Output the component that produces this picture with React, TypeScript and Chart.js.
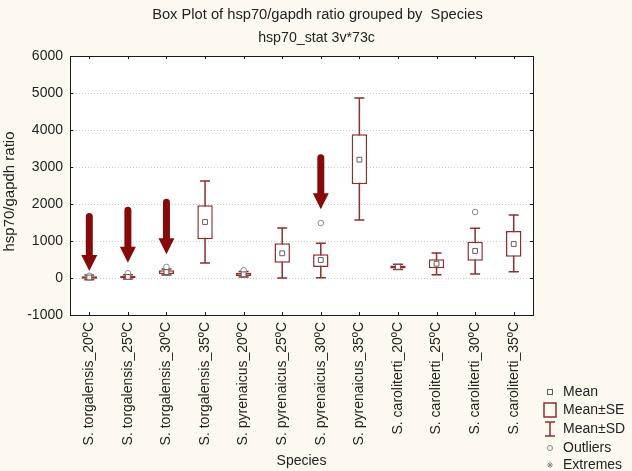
import { useEffect, useRef } from 'react';
import { Chart, registerables } from 'chart.js';

Chart.register(...registerables);

// Groups (species × temperature)
const categories = [
  'S. torgalensis_20ºC',
  'S. torgalensis_25ºC',
  'S. torgalensis_30ºC',
  'S. torgalensis_35ºC',
  'S. pyrenaicus_20ºC',
  'S. pyrenaicus_25ºC',
  'S. pyrenaicus_30ºC',
  'S. pyrenaicus_35ºC',
  'S. caroliterti_20ºC',
  'S. caroliterti_25ºC',
  'S. caroliterti_30ºC',
  'S. caroliterti_35ºC',
];

// hsp70/gapdh ratio summaries per group
const means = [15, 30, 160, 1513, 100, 667, 486, 3198, 300, 387, 730, 919];
const seLow = [-20, 0, 110, 1046, 55, 414, 297, 2532, 260, 261, 468, 577];
const seHigh = [50, 60, 210, 1965, 145, 937, 640, 3883, 340, 505, 982, 1270];
const sdLow = [-50, -30, 80, 405, 25, 0, 9, 1568, 230, 90, 108, 171];
const sdHigh = [80, 90, 240, 2622, 175, 1351, 937, 4865, 370, 676, 1342, 1703];

// Outlying observations
const outlierGroups = [0, 1, 2, 4, 6, 10];
const outlierValues = [60, 130, 300, 210, 1486, 1784];

// Highlight arrows (group, tail value, tip value)
const arrowGroups = [0, 1, 2, 6];
const arrowTails = [1757, 1927, 2143, 3342];
const arrowTips = [190, 414, 640, 1856];

// Value axis
const yMin = -1000;
const yMax = 6000;
const yStep = 1000;

const chartTitle = 'Box Plot of hsp70/gapdh ratio grouped by  Species';
const chartSubtitle = 'hsp70_stat 3v*73c';
const xTitle = 'Species';
const yTitle = 'hsp70/gapdh ratio';
const legendLabels = ['Mean', 'Mean±SE', 'Mean±SD', 'Outliers', 'Extremes'];

const FONT = '"Liberation Sans", Arial, sans-serif';
const TEXT = '#222222';
const BOX = '#8c2f2f';
const ARROW = '#860a0a';
const MARK = '#6e5a5a';
const PAGE = '#fcfaf0';

const boxPlotPlugin = {
  id: 'boxPlotExtras',
  beforeDraw(chart: any) {
    const { ctx, chartArea: a, width, height } = chart;
    ctx.save();
    ctx.fillStyle = PAGE;
    ctx.fillRect(0, 0, width, height);
    ctx.fillStyle = '#ffffff';
    ctx.fillRect(a.left, a.top, a.right - a.left, a.bottom - a.top);
    ctx.restore();
  },
  beforeDatasetsDraw(chart: any) {
    const { ctx, chartArea: a, scales } = chart;
    const x = scales.x;
    const y = scales.y;
    ctx.save();
    // dotted horizontal grid
    ctx.strokeStyle = '#c8c8c8';
    ctx.lineWidth = 1;
    ctx.setLineDash([1, 2]);
    for (let v = yMin + yStep; v < yMax; v += yStep) {
      const py = Math.round(y.getPixelForValue(v)) + 0.5;
      ctx.beginPath();
      ctx.moveTo(a.left, py);
      ctx.lineTo(a.right, py);
      ctx.stroke();
    }
    ctx.setLineDash([]);
    // whiskers (mean ± SD)
    ctx.strokeStyle = BOX;
    ctx.lineWidth = 1.5;
    const cap = 5;
    categories.forEach((_, i) => {
      const px = x.getPixelForValue(i);
      const lo = y.getPixelForValue(sdLow[i]);
      const hi = y.getPixelForValue(sdHigh[i]);
      ctx.beginPath();
      ctx.moveTo(px, lo);
      ctx.lineTo(px, hi);
      ctx.moveTo(px - cap, lo);
      ctx.lineTo(px + cap, lo);
      ctx.moveTo(px - cap, hi);
      ctx.lineTo(px + cap, hi);
      ctx.stroke();
    });
    ctx.restore();
  },
  afterDatasetsDraw(chart: any) {
    const { ctx, chartArea: a, scales } = chart;
    const x = scales.x;
    const y = scales.y;
    ctx.save();
    // frame
    ctx.strokeStyle = '#1a1a1a';
    ctx.lineWidth = 1;
    ctx.strokeRect(Math.round(a.left) + 0.5, Math.round(a.top) + 0.5,
      Math.round(a.right - a.left), Math.round(a.bottom - a.top));
    // inner ticks
    ctx.beginPath();
    for (let v = yMin; v <= yMax; v += yStep) {
      const py = Math.round(y.getPixelForValue(v)) + 0.5;
      ctx.moveTo(a.left, py);
      ctx.lineTo(a.left + 3, py);
      ctx.moveTo(a.right, py);
      ctx.lineTo(a.right - 3, py);
    }
    categories.forEach((_, i) => {
      const px = Math.round(x.getPixelForValue(i)) + 0.5;
      ctx.moveTo(px, a.top);
      ctx.lineTo(px, a.top + 3);
      ctx.moveTo(px, a.bottom);
      ctx.lineTo(px, a.bottom - 3);
    });
    ctx.stroke();
    // arrows
    ctx.fillStyle = ARROW;
    const shaft = 3.5;
    const headW = 8;
    const headL = 16;
    arrowGroups.forEach((g, k) => {
      const px = x.getPixelForValue(g);
      const top = y.getPixelForValue(arrowTails[k]);
      const tip = y.getPixelForValue(arrowTips[k]);
      const neck = tip - headL;
      ctx.beginPath();
      ctx.moveTo(px - shaft, top + shaft);
      ctx.arc(px, top + shaft, shaft, Math.PI, 0);
      ctx.lineTo(px + shaft, neck);
      ctx.lineTo(px + headW, neck);
      ctx.lineTo(px, tip);
      ctx.lineTo(px - headW, neck);
      ctx.lineTo(px - shaft, neck);
      ctx.closePath();
      ctx.fill();
    });
    ctx.restore();
  },
  afterDraw(chart: any) {
    const { ctx, chartArea: a } = chart;
    ctx.save();
    ctx.fillStyle = TEXT;
    ctx.textBaseline = 'middle';
    ctx.textAlign = 'center';
    const cx = (a.left + a.right) / 2;
    ctx.font = `14.7px ${FONT}`;
    ctx.fillText(chartTitle, cx + 16, 15);
    ctx.font = `14.2px ${FONT}`;
    ctx.fillText(chartSubtitle, cx + 15, 38);
    ctx.font = `14px ${FONT}`;
    ctx.fillText(xTitle, cx, 461);
    ctx.save();
    ctx.font = `15px ${FONT}`;
    ctx.translate(10, (a.top + a.bottom) / 2 + 6);
    ctx.rotate(-Math.PI / 2);
    ctx.fillText(yTitle, 0, 0);
    ctx.restore();

    // legend
    ctx.font = `14px ${FONT}`;
    const ix = 550;
    const tx = 563;
    const rows = [392, 410, 429, 448, 465];
    ctx.textAlign = 'left';
    legendLabels.forEach((t, i) => ctx.fillText(t, tx, rows[i]));
    ctx.lineWidth = 1;
    ctx.strokeStyle = MARK;
    ctx.strokeRect(ix - 2.5, rows[0] - 2.5, 5, 5);
    ctx.strokeStyle = BOX;
    ctx.lineWidth = 1.5;
    ctx.strokeRect(ix - 6, rows[1] - 7, 12, 14);
    ctx.beginPath();
    ctx.moveTo(ix, rows[2] - 7);
    ctx.lineTo(ix, rows[2] + 7);
    ctx.moveTo(ix - 5, rows[2] - 7);
    ctx.lineTo(ix + 5, rows[2] - 7);
    ctx.moveTo(ix - 5, rows[2] + 7);
    ctx.lineTo(ix + 5, rows[2] + 7);
    ctx.stroke();
    ctx.strokeStyle = '#8a8a8a';
    ctx.lineWidth = 1;
    ctx.beginPath();
    ctx.arc(ix, rows[3], 2.5, 0, Math.PI * 2);
    ctx.stroke();
    ctx.beginPath();
    for (let k = 0; k < 4; k++) {
      const ang = (k * Math.PI) / 4;
      ctx.moveTo(ix - 3 * Math.cos(ang), rows[4] - 3 * Math.sin(ang));
      ctx.lineTo(ix + 3 * Math.cos(ang), rows[4] + 3 * Math.sin(ang));
    }
    ctx.stroke();
    ctx.restore();
  },
};

export default function App() {
  const canvasRef = useRef<HTMLCanvasElement | null>(null);

  useEffect(() => {
    const canvas = canvasRef.current;
    if (!canvas) return;

    const outlierPoints = outlierGroups.map((g, k) => ({ x: categories[g], y: outlierValues[k] }));

    const chart = new Chart(canvas, {
      type: 'bar',
      data: {
        labels: categories,
        datasets: [
          {
            type: 'line',
            label: 'Mean',
            data: means,
            showLine: false,
            pointStyle: 'rect',
            pointRadius: 3.4,
            pointBorderWidth: 1,
            pointBorderColor: MARK,
            pointBackgroundColor: '#ffffff',
            order: 1,
          } as any,
          {
            type: 'line',
            label: 'Outliers',
            data: outlierPoints,
            showLine: false,
            pointStyle: 'circle',
            pointRadius: 2.8,
            pointBorderWidth: 1,
            pointBorderColor: '#8a8a8a',
            pointBackgroundColor: '#ffffff',
            order: 2,
          } as any,
          {
            type: 'bar',
            label: 'Mean±SE',
            data: seLow.map((lo, i) => [lo, seHigh[i]]),
            backgroundColor: '#ffffff',
            borderColor: BOX,
            borderWidth: 1.5,
            borderSkipped: false,
            barPercentage: 0.4,
            categoryPercentage: 1,
            order: 3,
          } as any,
        ],
      },
      options: {
        animation: false,
        responsive: true,
        maintainAspectRatio: false,
        layout: { padding: { top: 56, right: 99, left: 0, bottom: 0 } },
        plugins: {
          legend: { display: false },
          title: { display: false },
          tooltip: { enabled: false },
        },
        scales: {
          x: {
            type: 'category',
            offset: true,
            grid: { display: false, drawTicks: false },
            border: { display: false },
            ticks: {
              autoSkip: false,
              minRotation: 90,
              maxRotation: 90,
              padding: 7,
              color: TEXT,
              font: { family: FONT, size: 14 },
            },
            afterFit(scale: any) {
              scale.height = 156;
            },
          },
          y: {
            min: yMin,
            max: yMax,
            grid: { display: false, drawTicks: false },
            border: { display: false },
            ticks: {
              stepSize: yStep,
              padding: 7,
              color: TEXT,
              font: { family: FONT, size: 14 },
              callback: (v: any) => String(v),
            },
            afterFit(scale: any) {
              scale.width = 70;
            },
          },
        },
      },
      plugins: [boxPlotPlugin],
    });

    return () => chart.destroy();
  }, []);

  return (
    <div style={{ position: 'absolute', left: 0, top: 0, width: 632, height: 471, background: PAGE }}>
      <canvas ref={canvasRef} />
    </div>
  );
}
